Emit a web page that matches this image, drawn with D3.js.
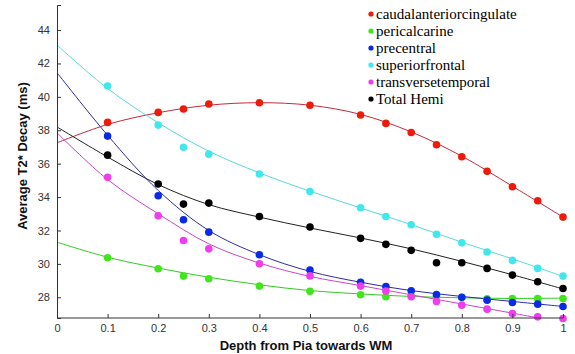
<!DOCTYPE html>
<html>
<head>
<meta charset="utf-8">
<script src="https://cdn.jsdelivr.net/npm/d3@7"></script>
<style>
  body { margin: 0; background: #fff; }
  svg { display: block; }
</style>
</head>
<body>
<script>
// measured depths (points) and curve sample depths
const depths = [0.1, 0.2, 0.25, 0.3, 0.4, 0.5, 0.6, 0.65, 0.7, 0.75, 0.8, 0.85, 0.9, 0.95, 1.0];
const fitDepths = [0, 0.1, 0.2, 0.3, 0.4, 0.5, 0.6, 0.7, 0.8, 0.9, 1.0];

const regions = ["caudalanteriorcingulate", "pericalcarine", "precentral", "superiorfrontal", "transversetemporal", "Total Hemi"];

// point values
const caudalPts = [38.47, 39.07, 39.27, 39.57, 39.65, 39.5, 38.91, 38.41, 37.87, 37.13, 36.41, 35.54, 34.62, 33.78, 32.8];
const pericalPts = [30.37, 29.71, 29.27, 29.11, 28.67, 28.36, 28.15, 28.03, 28.08, 28.05, 27.98, 27.91, 27.93, 27.93, 27.93];
const precentralPts = [37.65, 34.08, 32.64, 31.9, 30.55, 29.63, 28.89, 28.65, 28.39, 28.17, 28.0, 27.83, 27.69, 27.59, 27.45];
const supfrontalPts = [40.65, 38.31, 36.98, 36.57, 35.38, 34.33, 33.36, 32.84, 32.34, 31.77, 31.26, 30.71, 30.21, 29.73, 29.27];
const transtempPts = [35.18, 32.88, 31.4, 30.9, 30.01, 29.28, 28.67, 28.37, 28.03, 27.75, 27.53, 27.29, 27.03, 26.83, 26.73];
const hemiPts = [36.51, 34.78, 33.58, 33.64, 32.84, 32.21, 31.53, 31.17, 30.81, 30.07, 30.07, 29.73, 29.33, 28.93, 28.53];

// fitted curves, read at fitDepths
const caudalFit = [37.25, 38.35, 39.05, 39.5, 39.65, 39.5, 38.95, 37.9, 36.45, 34.65, 32.8];
const pericalFit = [31.3, 30.4, 29.75, 29.2, 28.75, 28.4, 28.2, 28.05, 27.97, 27.93, 27.95];
const precentralFit = [41.45, 37.7, 34.4, 32.0, 30.55, 29.55, 28.9, 28.4, 28.05, 27.75, 27.45];
const supfrontalFit = [43.1, 40.5, 38.45, 36.75, 35.45, 34.35, 33.35, 32.35, 31.3, 30.3, 29.25];
const transtempFit = [37.85, 35.05, 33.0, 31.2, 30.05, 29.25, 28.7, 28.15, 27.6, 27.05, 26.5];
const hemiFit = [38.2, 36.4, 34.75, 33.55, 32.8, 32.15, 31.55, 30.9, 30.15, 29.35, 28.5];

const yTicks = [28, 30, 32, 34, 36, 38, 40, 42, 44];
const xTicks = [0, 0.1, 0.2, 0.3, 0.4, 0.5, 0.6, 0.7, 0.8, 0.9, 1];
const xTickLabels = ["0", "0.1", "0.2", "0.3", "0.4", "0.5", "0.6", "0.7", "0.8", "0.9", "1"];

const pointColors = ["#ee1a0a", "#3ee61a", "#0a2ae6", "#3ee8ee", "#ee3cee", "#000000"];
const lineColors = ["#c42a3c", "#33cc22", "#2c2ca6", "#5ad8d8", "#cc44cc", "#222222"];

const series = [
  { pts: caudalPts, fit: caudalFit },
  { pts: pericalPts, fit: pericalFit },
  { pts: precentralPts, fit: precentralFit },
  { pts: supfrontalPts, fit: supfrontalFit },
  { pts: transtempPts, fit: transtempFit },
  { pts: hemiPts, fit: hemiFit }
];

const width = 575, height = 354;
const margin = { top: 5, right: 12, bottom: 36, left: 57 };

const x = d3.scaleLinear()
  .domain([0, 1])
  .range([margin.left, width - margin.right]);

const y = d3.scaleLinear()
  .domain([26.76, 45.5])
  .range([height - margin.bottom, margin.top]);

const svg = d3.select("body")
  .append("svg")
  .attr("width", width)
  .attr("height", height);

svg.append("defs").append("clipPath")
  .attr("id", "plot")
  .append("rect")
  .attr("x", margin.left)
  .attr("y", margin.top)
  .attr("width", width - margin.right - margin.left)
  .attr("height", height - margin.bottom - margin.top);

const line = d3.line()
  .x((d, i) => x(fitDepths[i]))
  .y(d => y(d))
  .curve(d3.curveCatmullRom);

const plot = svg.append("g").attr("clip-path", "url(#plot)");

series.forEach((s, k) => {
  plot.append("path")
    .datum(s.fit)
    .attr("fill", "none")
    .attr("stroke", lineColors[k])
    .attr("stroke-width", 1)
    .attr("d", line);
});

series.forEach((s, k) => {
  svg.append("g")
    .selectAll("circle")
    .data(s.pts)
    .join("circle")
    .attr("cx", (d, i) => x(depths[i]))
    .attr("cy", d => y(d))
    .attr("r", 3.8)
    .attr("fill", pointColors[k]);
});

// axes (matlab style: ticks pointing inward)
const xAxis = g => g
  .attr("transform", `translate(0,${height - margin.bottom})`)
  .call(d3.axisTop(x).tickValues(xTicks).tickSize(4).tickFormat((d, i) => xTickLabels[i]))
  .call(g => g.select(".domain").attr("d", `M${margin.left},0H${width - margin.right}`))
  .call(g => g.selectAll(".tick text").attr("y", 14).attr("dy", 0).attr("fill", "#333"));

const yAxis = g => g
  .attr("transform", `translate(${margin.left},0)`)
  .call(d3.axisRight(y).tickValues(yTicks).tickSize(4))
  .call(g => g.selectAll(".tick text").attr("x", -7).attr("text-anchor", "end").attr("fill", "#333"));

svg.append("g").call(xAxis);
svg.append("g").call(yAxis);

svg.selectAll(".domain, .tick line").attr("stroke", "#333");
svg.selectAll(".tick text")
  .attr("font-family", "Liberation Sans, Arial, sans-serif")
  .attr("font-size", 11);

svg.append("text")
  .attr("transform", "translate(27,156) rotate(-90)")
  .attr("text-anchor", "middle")
  .attr("font-family", "Liberation Sans, Arial, sans-serif")
  .attr("font-weight", "bold")
  .attr("font-size", 13)
  .attr("fill", "#111")
  .text("Average T2* Decay (ms)");

svg.append("text")
  .attr("x", 306)
  .attr("y", 350)
  .attr("text-anchor", "middle")
  .attr("font-family", "Liberation Sans, Arial, sans-serif")
  .attr("font-weight", "bold")
  .attr("font-size", 13)
  .attr("fill", "#111")
  .text("Depth from Pia towards WM");

// legend
const legend = svg.append("g")
  .attr("font-family", "Liberation Serif, Times New Roman, serif")
  .attr("font-size", 15);

const row = legend.selectAll("g")
  .data(regions)
  .join("g")
  .attr("transform", (d, i) => `translate(371,${14 + i * 17})`);

row.append("circle")
  .attr("r", 2.6)
  .attr("fill", (d, i) => pointColors[i]);

row.append("text")
  .attr("x", 5)
  .attr("y", 5)
  .attr("fill", "#000")
  .text(d => d);
</script>
</body>
</html>
